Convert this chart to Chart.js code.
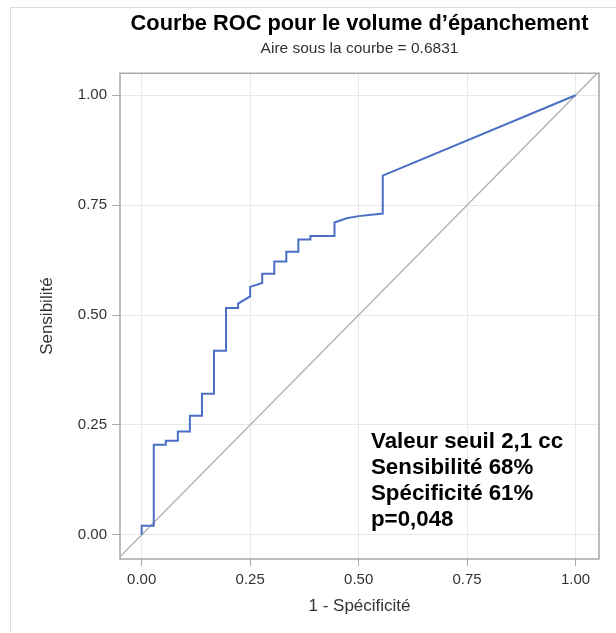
<!DOCTYPE html>
<html>
<head>
<meta charset="utf-8">
<script src="https://cdn.jsdelivr.net/npm/chart.js@4/dist/chart.umd.min.js"></script>
<style>
  html, body { margin: 0; padding: 0; background: #fff; }
  #wrap { width: 616px; height: 633px; position: relative; }
</style>
</head>
<body>
<div id="wrap"><canvas id="c" width="616" height="633"></canvas></div>
<script>
// ---- Data ----
const titleText = "Courbe ROC pour le volume d\u2019épanchement";
const subtitleText = "Aire sous la courbe = 0.6831";
const xAxisTitle = "1 - Spécificité";
const yAxisTitle = "Sensibilité";

// ROC curve: 1 - specificity (x) and sensitivity (y)
const fpr = [0, 0, 0.0278, 0.0278, 0.0556, 0.0556, 0.0833, 0.0833, 0.1111, 0.1111,
             0.1389, 0.1389, 0.1667, 0.1667, 0.1944, 0.1944, 0.2222, 0.2222, 0.25, 0.25,
             0.2778, 0.2778, 0.3056, 0.3056, 0.3333, 0.3333, 0.3611, 0.3611, 0.3889, 0.3889,
             0.4444, 0.4444, 0.4722, 0.5, 0.5556, 0.5556, 1];
const tpr = [0, 0.0205, 0.0205, 0.205, 0.205, 0.214, 0.214, 0.235, 0.235, 0.271,
             0.271, 0.321, 0.321, 0.419, 0.419, 0.516, 0.516, 0.526, 0.5425, 0.564,
             0.573, 0.594, 0.594, 0.622, 0.622, 0.644, 0.644, 0.672, 0.672, 0.680,
             0.680, 0.7105, 0.720, 0.725, 0.731, 0.817, 1];

// Reference (chance) diagonal
const diagX = [-0.1, 1.1];
const diagY = [-0.1, 1.1];

const tickValues = [0, 0.25, 0.5, 0.75, 1];
const annotationLines = ["Valeur seuil 2,1 cc", "Sensibilité 68%", "Spécificité 61%", "p=0,048"];

// ---- Build chart ----
const rocPoints = fpr.map((x, i) => ({x: x, y: tpr[i]}));
const diagPoints = diagX.map((x, i) => ({x: x, y: diagY[i]}));

const FONT = "'Liberation Sans', Arial, Helvetica, sans-serif";

const framePlugin = {
  id: 'frame',
  beforeDraw(chart) {
    const ctx = chart.ctx;
    ctx.save();
    ctx.fillStyle = '#ffffff';
    ctx.fillRect(0, 0, chart.width, chart.height);
    ctx.strokeStyle = '#dcdcdc';
    ctx.lineWidth = 1;
    ctx.strokeRect(10.5, 7.5, chart.width + 20, chart.height + 20);
    ctx.restore();
  },
  afterDraw(chart) {
    const ctx = chart.ctx;
    const a = chart.chartArea;
    ctx.save();
    ctx.strokeStyle = '#a8a8a8';
    ctx.lineWidth = 1.5;
    ctx.strokeRect(a.left, a.top, a.right - a.left, a.bottom - a.top);
    // annotation text
    ctx.fillStyle = '#000';
    ctx.font = "bold 22.3px " + FONT;
    ctx.textBaseline = 'alphabetic';
    ctx.textAlign = 'left';
    const x0 = 371;
    const baselines = [448, 474, 500, 526];
    annotationLines.forEach((t, i) => ctx.fillText(t, x0, baselines[i]));
    ctx.restore();
  }
};

new Chart(document.getElementById('c'), {
  type: 'scatter',
  data: {
    datasets: [
      {
        label: 'Diagonale',
        data: diagPoints,
        showLine: true,
        borderColor: '#b4b4b4',
        borderWidth: 1.5,
        pointRadius: 0,
        pointHoverRadius: 0,
        order: 2
      },
      {
        label: 'ROC',
        data: rocPoints,
        showLine: true,
        borderColor: '#4a6fc4',
        borderWidth: 2,
        pointRadius: 0,
        pointHoverRadius: 0,
        tension: 0,
        order: 1
      }
    ]
  },
  options: {
    responsive: false,
    animation: false,
    events: [],
    layout: { padding: { left: 10, right: 17, top: 0, bottom: 10 } },
    plugins: {
      legend: { display: false },
      tooltip: { enabled: false },
      title: {
        display: true,
        text: titleText,
        fullSize: false,
        color: '#000',
        font: { family: FONT, size: 21.8, weight: 'bold' },
        padding: { top: 11, bottom: 0 }
      },
      subtitle: {
        display: true,
        text: subtitleText,
        fullSize: false,
        color: '#333',
        font: { family: FONT, size: 15.5 },
        padding: { top: 2, bottom: 15.5 }
      }
    },
    scales: {
      x: {
        type: 'linear',
        min: -0.05,
        max: 1.054,
        afterBuildTicks(scale) { scale.ticks = tickValues.map(v => ({value: v})); },
        afterFit(scale) { scale.height = 64; },
        grid: { color: '#e8e8e8', lineWidth: 1, tickColor: '#a8a8a8', tickLength: 7 },
        border: { display: false },
        ticks: {
          color: '#333',
          font: { family: FONT, size: 15 },
          padding: 5,
          maxRotation: 0,
          callback: v => Number(v).toFixed(2)
        },
        title: {
          display: true,
          text: xAxisTitle,
          color: '#333',
          font: { family: FONT, size: 17 },
          padding: { top: 0, bottom: 6 }
        }
      },
      y: {
        type: 'linear',
        min: -0.055,
        max: 1.05,
        afterBuildTicks(scale) { scale.ticks = tickValues.map(v => ({value: v})); },
        afterFit(scale) { scale.width = 110; },
        grid: { color: '#e8e8e8', lineWidth: 1, tickColor: '#a8a8a8', tickLength: 8 },
        border: { display: false },
        ticks: {
          color: '#333',
          font: { family: FONT, size: 15 },
          padding: 5,
          callback: v => Number(v).toFixed(2)
        },
        title: {
          display: true,
          text: yAxisTitle,
          color: '#333',
          font: { family: FONT, size: 17 },
          padding: { top: 27.3, bottom: 0 }
        }
      }
    }
  },
  plugins: [framePlugin]
});
</script>
</body>
</html>
